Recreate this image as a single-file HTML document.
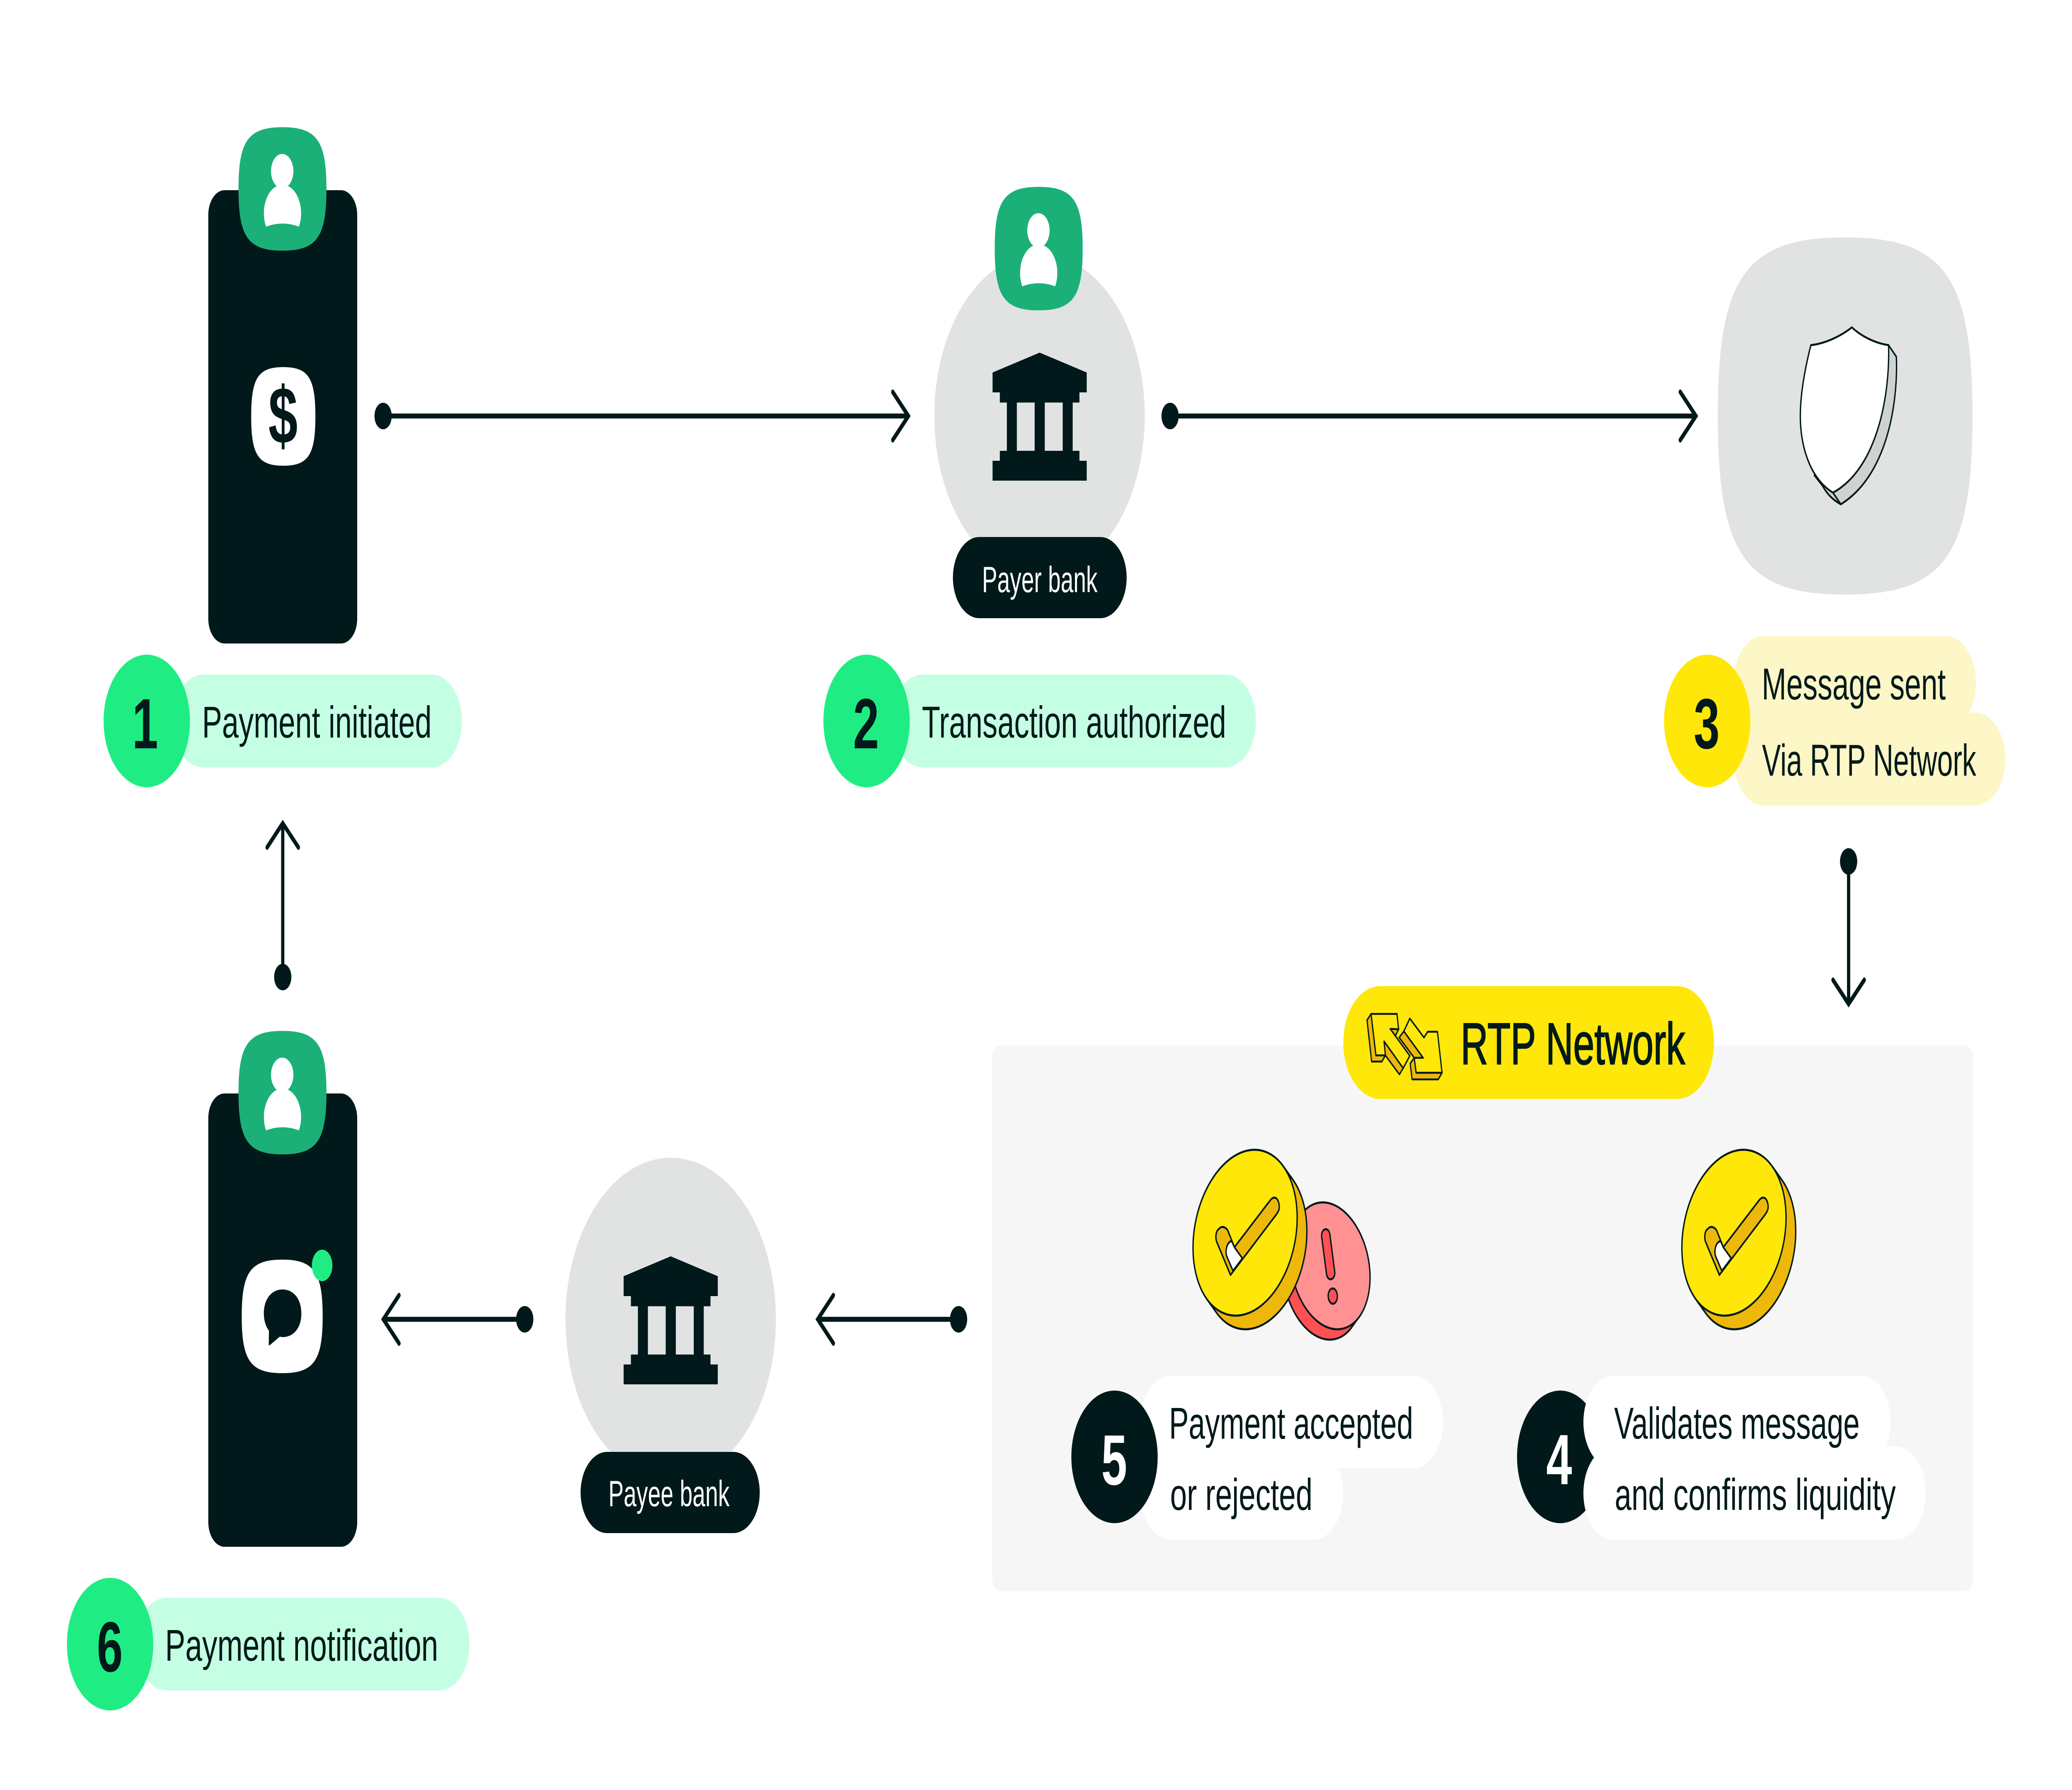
<!DOCTYPE html>
<html lang="en">
<head>
<meta charset="utf-8">
<title>RTP payment flow</title>
<style>
html,body{margin:0;padding:0;background:#fff}
svg{display:block;width:100vw;height:100vh}
text{font-family:"Liberation Sans",sans-serif;fill:#01191a}
.t{font-size:108px}
.d{font-size:172px;font-weight:700;text-anchor:middle}
.b{font-size:88px;fill:#fff}
.ln{stroke:#01191a;stroke-width:12;fill:none;stroke-linecap:round;stroke-linejoin:miter;stroke-miterlimit:10}
.s{stroke:#01191a;stroke-width:5;stroke-linejoin:round}
</style>
</head>
<body>
<svg xmlns="http://www.w3.org/2000/svg" viewBox="0 0 7680 4320" preserveAspectRatio="none">

<!-- connectors -->
<g class="ln">
  <path d="M1420,1004H3366M3309,946L3367,1004L3309,1062"/>
  <path d="M4337,1004H6285M6228,946L6286,1004L6228,1062"/>
  <path d="M6852,2079V2422M6794,2365L6852,2423L6910,2365"/>
  <path d="M1048,2358V1988M990,2045L1048,1987L1106,2045"/>
  <path d="M3553,3184H3031M3089,3126L3031,3184L3089,3242"/>
  <path d="M1945,3184H1421M1479,3126L1421,3184L1479,3242"/>
</g>
<g fill="#01191a">
  <circle cx="1420" cy="1004" r="32"/>
  <circle cx="4337" cy="1004" r="32"/>
  <circle cx="6852" cy="2079" r="32"/>
  <circle cx="1048" cy="2358" r="32"/>
  <circle cx="3553" cy="3184" r="32"/>
  <circle cx="1945" cy="3184" r="32"/>
</g>

<!-- phone 1 -->
<rect x="772" y="459" width="552" height="1094" rx="60" fill="#01191a"/>
<g transform="translate(1047,456)">
  <path transform="scale(163,149)" fill="#1bb077" d="M0,-1C.78,-1 1,-.78 1,0C1,.78 .78,1 0,1C-.78,1 -1,.78 -1,0C-1,-.78 -.78,-1 0,-1Z"/>
  <circle cx="-1" cy="-43" r="41.5" fill="#fff"/>
  <path d="M-61,91A69,69 0 1 1 61,91Q0,76 -61,91Z" fill="#fff"/>
</g>
<path transform="translate(1050,1005) scale(119,119)" fill="#fff" d="M0,-1C.78,-1 1,-.78 1,0C1,.78 .78,1 0,1C-.78,1 -1,.78 -1,0C-1,-.78 -.78,-1 0,-1Z"/>
<text x="1049" y="1070" font-size="195" font-weight="700" text-anchor="middle">$</text>

<!-- payer bank -->
<circle cx="3853" cy="1003" r="390" fill="#e1e3e2"/>
<g transform="translate(3850,600)">
  <path transform="scale(163,149)" fill="#1bb077" d="M0,-1C.78,-1 1,-.78 1,0C1,.78 .78,1 0,1C-.78,1 -1,.78 -1,0C-1,-.78 -.78,-1 0,-1Z"/>
  <circle cx="-1" cy="-44" r="41.5" fill="#fff"/>
  <path d="M-61,91A69,69 0 1 1 61,91Q0,76 -61,91Z" fill="#fff"/>
</g>
<path transform="translate(3853.5,1005)" fill="#01191a" fill-rule="evenodd" d="M-174.5,-106L0,-154L174.5,-106V-58H147.5V-33.5H122.5V83H147.5V107H174.5V155H-174.5V107H-147.5V83H-121.5V-33.5H-147.5V-58H-174.5ZM-84.5,-33.5V83H-18.5V-33.5ZM19,-33.5V83H85.5V-33.5Z"/>
<rect x="3532" y="1296" width="644" height="196" rx="98" fill="#01191a"/>
<text class="b" x="3640" y="1429" textLength="428" lengthAdjust="spacingAndGlyphs">Payer bank</text>

<!-- shield -->
<path transform="translate(6839,1004) scale(472,431)" fill="#e1e3e2" d="M0,-1C.78,-1 1,-.78 1,0C1,.78 .78,1 0,1C-.78,1 -1,.78 -1,0C-1,-.78 -.78,-1 0,-1Z"/>
<path class="s" fill="#d0d1d1" d="M7000,833L7029,861C7036,980 6990,1150 6823,1217C6790,1205 6770,1190 6755,1172L6725,1147L6794,1189Z"/>
<path class="s" fill="none" d="M6794,1189L6823,1217"/>
<path class="s" fill="#fff" d="M6712,833C6770,829 6830,808 6864,790C6900,812 6950,828 7000,833C7006,950 6960,1130 6794,1189C6720,1160 6673,1090 6673,1004C6673,950 6690,890 6712,833Z"/>

<!-- step 1 -->
<rect x="640" y="1628" width="1072" height="224" rx="112" fill="#c5ffe3"/>
<circle cx="544" cy="1740" r="160" fill="#1fed84"/>
<text class="d" x="538" y="1806">1</text>
<text class="t" x="749" y="1780" textLength="851" lengthAdjust="spacingAndGlyphs">Payment initiated</text>

<!-- step 2 -->
<rect x="3306" y="1628" width="1349" height="224" rx="112" fill="#c5ffe3"/>
<circle cx="3212" cy="1740" r="160" fill="#1fed84"/>
<text class="d" x="3210" y="1806">2</text>
<text class="t" x="3417" y="1780" textLength="1128" lengthAdjust="spacingAndGlyphs">Transaction authorized</text>

<!-- step 3 -->
<rect x="6426" y="1535" width="898" height="224" rx="112" fill="#fdf6c6"/>
<rect x="6426" y="1720" width="1007" height="224" rx="112" fill="#fdf6c6"/>
<circle cx="6328" cy="1740" r="160" fill="#ffe70a"/>
<text class="d" x="6326" y="1806">3</text>
<text class="t" x="6530" y="1688" textLength="682" lengthAdjust="spacingAndGlyphs">Message sent</text>
<text class="t" x="6531" y="1872" textLength="794" lengthAdjust="spacingAndGlyphs">Via RTP Network</text>

<!-- RTP panel -->
<rect x="3678" y="2523" width="3635" height="1317" rx="28" fill="#f6f6f6"/>
<rect x="4979" y="2380" width="1374" height="272" rx="136" fill="#ffe70a"/>
<g stroke="#01191a" stroke-width="4.500" stroke-linejoin="round">
  <polygon fill="#eeb80a" points="5082,2447 5067,2462 5084,2562 5122,2562 5135,2547 5100,2547"/>
  <polygon fill="#eeb80a" points="5130,2513 5135,2547 5187,2593 5201,2578"/>
  <polygon fill="#eeb80a" points="5153,2483 5184,2484 5172,2500"/>
  <polygon fill="#ffe70a" points="5082,2447 5178,2447 5184,2484 5153,2483 5225.500,2548 5201,2578 5130,2513 5135,2547 5100,2547"/>
  <polygon fill="#eeb80a" points="5203.500,2489 5186,2504 5242,2553 5275,2553"/>
  <polygon fill="#eeb80a" points="5242,2553 5227,2567 5234,2605 5331,2605 5345,2589 5249,2589"/>
  <polygon fill="#eeb80a" points="5292,2490 5278,2504 5297,2524"/>
  <polygon fill="#ffe70a" points="5225.500,2458 5278,2504 5292,2490 5328,2490 5345,2589 5249,2589 5242,2553 5275,2553 5203.500,2489"/>
</g>
<text x="5414" y="2568" font-size="142" stroke="#01191a" stroke-width="2.500" textLength="832" lengthAdjust="spacingAndGlyphs">RTP Network</text>

<!-- red coin -->
<ellipse cx="4902" cy="3080" rx="164" ry="136" transform="rotate(50 4902 3080)" fill="#ff5053" class="s"/>
<polygon points="5038,3178 5010,3203 4794,2957 4822,2932" fill="#ff5053"/>
<path d="M5038,3178L5010,3203" class="s" fill="none"/>
<ellipse cx="4930" cy="3055" rx="164" ry="136" transform="rotate(50 4930 3055)" fill="#ff9193" class="s"/>
<path d="M4914,2982L4932,3072" stroke="#01191a" stroke-width="36" stroke-linecap="round" fill="none"/>
<path d="M4914,2982L4932,3072" stroke="#ff5053" stroke-width="26" stroke-linecap="round" fill="none"/>
<ellipse cx="4940" cy="3128" rx="17" ry="18.500" transform="rotate(-10 4940 3128)" fill="#ff5053" class="s"/>

<!-- yellow coin left -->
<g>
  <ellipse cx="4651" cy="3008" rx="214" ry="177.5" transform="rotate(-50.6 4651 3008)" fill="#eeb80a" class="s"/>
  <polygon points="4757,2815 4793,2848 4509,3168 4473,3135" fill="#eeb80a"/>
  <path d="M4757,2815L4793,2848M4473,3135L4509,3168" class="s" fill="none"/>
  <ellipse cx="4615" cy="2975" rx="214" ry="177.5" transform="rotate(-50.6 4615 2975)" fill="#ffe70a" class="s"/>
  <path class="s" fill="#eeb80a" d="M4561,3077L4511,2999C4503,2987 4507,2970 4518,2966C4528,2957 4545,2962 4551,2970L4575.500,3010L4708,2897C4722,2885 4737,2890 4741,2907C4744,2918 4738,2924 4732,2930Z"/>
  <path class="s" fill="#fff" d="M4565,2995L4575.500,3010L4605,3037L4570,3067L4547,3032C4540,3018 4548,2998 4565,2995Z"/>
</g>
<!-- yellow coin right -->
<g transform="translate(1812,0)">
  <ellipse cx="4651" cy="3008" rx="214" ry="177.5" transform="rotate(-50.6 4651 3008)" fill="#eeb80a" class="s"/>
  <polygon points="4757,2815 4793,2848 4509,3168 4473,3135" fill="#eeb80a"/>
  <path d="M4757,2815L4793,2848M4473,3135L4509,3168" class="s" fill="none"/>
  <ellipse cx="4615" cy="2975" rx="214" ry="177.5" transform="rotate(-50.6 4615 2975)" fill="#ffe70a" class="s"/>
  <path class="s" fill="#eeb80a" d="M4561,3077L4511,2999C4503,2987 4507,2970 4518,2966C4528,2957 4545,2962 4551,2970L4575.500,3010L4708,2897C4722,2885 4737,2890 4741,2907C4744,2918 4738,2924 4732,2930Z"/>
  <path class="s" fill="#fff" d="M4565,2995L4575.500,3010L4605,3037L4570,3067L4547,3032C4540,3018 4548,2998 4565,2995Z"/>
</g>

<!-- step 5 -->
<rect x="4227" y="3320" width="1122" height="224" rx="112" fill="#fff"/>
<rect x="4227" y="3492" width="752" height="224" rx="112" fill="#fff"/>
<circle cx="4131" cy="3516" r="160" fill="#01191a"/>
<text class="d" x="4130" y="3583" style="fill:#fff">5</text>
<text class="t" x="4333" y="3472" textLength="905" lengthAdjust="spacingAndGlyphs">Payment accepted</text>
<text class="t" x="4337" y="3644" textLength="528" lengthAdjust="spacingAndGlyphs">or rejected</text>

<!-- step 4 -->
<circle cx="5783" cy="3516" r="160" fill="#01191a"/>
<rect x="5869" y="3320" width="1139" height="224" rx="112" fill="#fff"/>
<rect x="5869" y="3491" width="1269" height="225" rx="112" fill="#fff"/>
<text class="d" x="5779" y="3582" style="fill:#fff">4</text>
<text class="t" x="5983" y="3472" textLength="910" lengthAdjust="spacingAndGlyphs">Validates message</text>
<text class="t" x="5985" y="3644" textLength="1042" lengthAdjust="spacingAndGlyphs">and confirms liquidity</text>

<!-- payee bank -->
<circle cx="2486" cy="3184" r="390" fill="#e1e3e2"/>
<path transform="translate(2486,3186)" fill="#01191a" fill-rule="evenodd" d="M-174.5,-106L0,-154L174.5,-106V-58H147.5V-33.5H122.5V83H147.5V107H174.5V155H-174.5V107H-147.5V83H-121.5V-33.5H-147.5V-58H-174.5ZM-84.5,-33.5V83H-18.5V-33.5ZM19,-33.5V83H85.5V-33.5Z"/>
<rect x="2152" y="3504" width="664" height="196" rx="98" fill="#01191a"/>
<text class="b" x="2255" y="3635" textLength="449" lengthAdjust="spacingAndGlyphs">Payee bank</text>

<!-- phone 2 -->
<rect x="772" y="2639" width="552" height="1094" rx="60" fill="#01191a"/>
<g transform="translate(1047,2637)">
  <path transform="scale(163,149)" fill="#1bb077" d="M0,-1C.78,-1 1,-.78 1,0C1,.78 .78,1 0,1C-.78,1 -1,.78 -1,0C-1,-.78 -.78,-1 0,-1Z"/>
  <circle cx="-1" cy="-43" r="41.5" fill="#fff"/>
  <path d="M-61,91A69,69 0 1 1 61,91Q0,76 -61,91Z" fill="#fff"/>
</g>
<path transform="translate(1046,3177) scale(150,137)" fill="#fff" d="M0,-1C.78,-1 1,-.78 1,0C1,.78 .78,1 0,1C-.78,1 -1,.78 -1,0C-1,-.78 -.78,-1 0,-1Z"/>
<path fill="#01191a" d="M997,3212C984,3200 978,3186 978,3170C978,3134 1008,3112 1047,3112C1087,3112 1117,3134 1117,3170C1117,3206 1087,3227 1047,3227L1037,3226L999,3247L996,3246Z"/>
<circle cx="1194" cy="3054" r="38" fill="#1fed84"/>

<!-- step 6 -->
<rect x="505" y="3856" width="1235" height="224" rx="112" fill="#c5ffe3"/>
<circle cx="408" cy="3968" r="160" fill="#1fed84"/>
<text class="d" x="407" y="4034">6</text>
<text class="t" x="612" y="4008" textLength="1012" lengthAdjust="spacingAndGlyphs">Payment notification</text>
</svg>
</body>
</html>
